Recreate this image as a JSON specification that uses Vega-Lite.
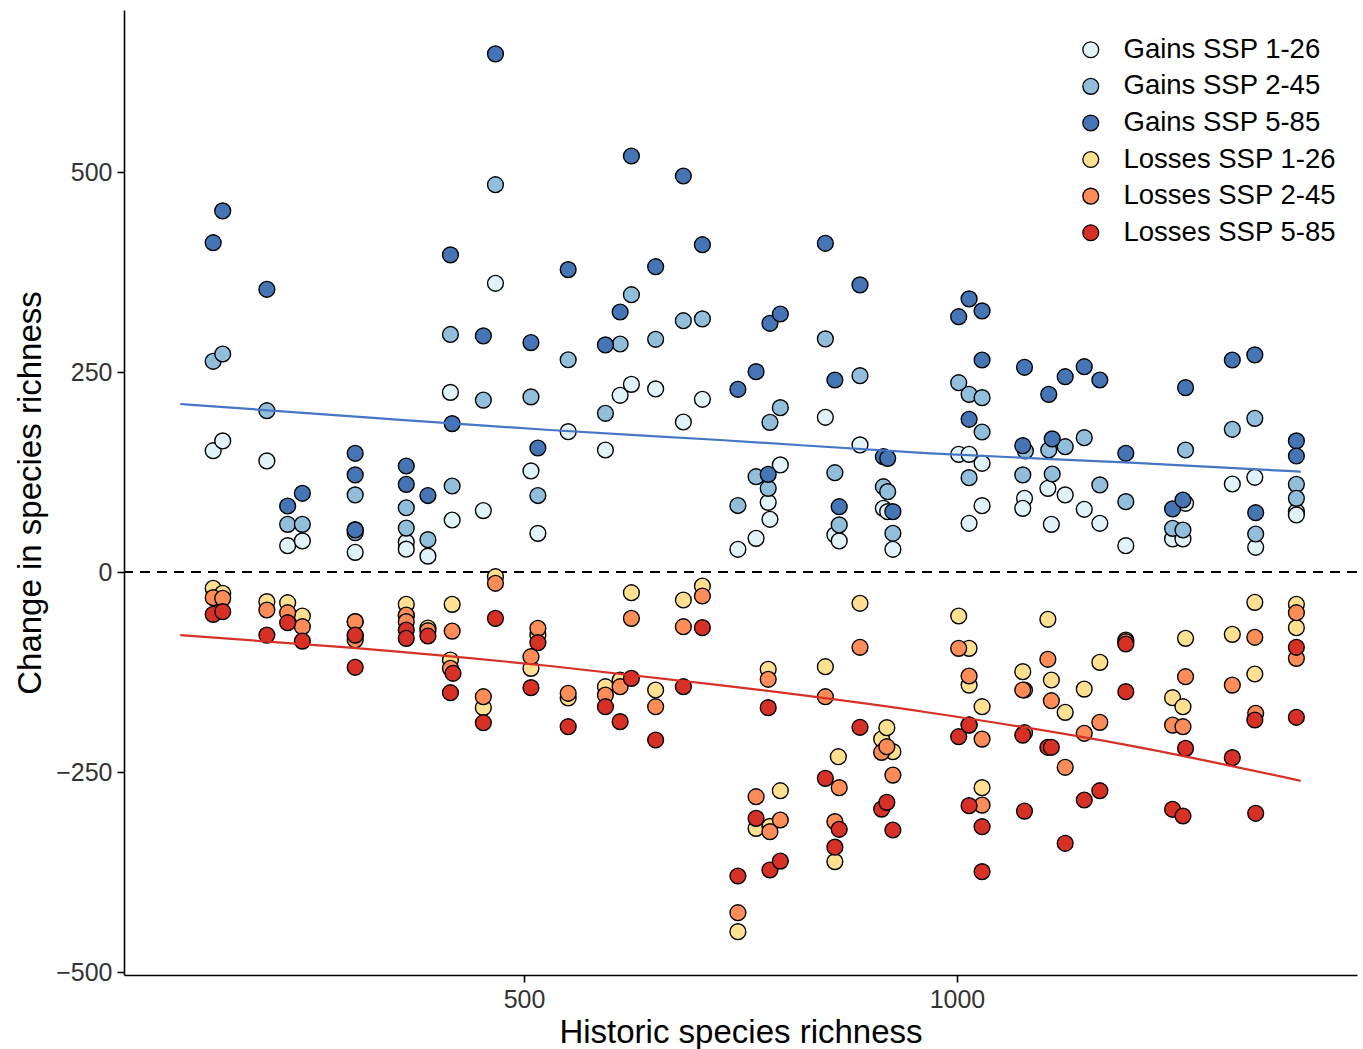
{
  "$schema": "https://vega.github.io/schema/vega-lite/v6.json",
  "width": 1233,
  "height": 965,
  "autosize": {"type": "none"},
  "padding": {"left": 124, "top": 10, "right": 6, "bottom": 74},
  "background": "white",
  "config": {
    "view": {"stroke": null},
    "font": "Liberation Sans",
    "axis": {
      "grid": false,
      "domainColor": "black",
      "domainWidth": 1.6,
      "tickColor": "black",
      "tickWidth": 1.6,
      "tickSize": 7,
      "labelFont": "Liberation Sans",
      "labelFontSize": 25,
      "labelColor": "#333333",
      "labelPadding": 5,
      "titleFont": "Liberation Sans",
      "titleFontSize": 33,
      "titleFontWeight": "normal",
      "titleColor": "black"
    },
    "legend": {
      "labelFont": "Liberation Sans",
      "labelFontSize": 27.5,
      "labelColor": "black",
      "labelLimit": 0,
      "symbolStrokeColor": "black",
      "symbolStrokeWidth": 1.3,
      "symbolSize": 250,
      "symbolType": "circle",
      "rowPadding": 7.6,
      "labelOffset": 19
    }
  },
  "datasets": {
    "pts": [
      {"x":141,"y":151.6,"s":"Gains SSP 1-26"},{"x":152,"y":163.8,"s":"Gains SSP 1-26"},{"x":203,"y":138.8,"s":"Gains SSP 1-26"},{"x":227,"y":32.9,"s":"Gains SSP 1-26"},{"x":244,"y":38.8,"s":"Gains SSP 1-26"},{"x":305,"y":24.6,"s":"Gains SSP 1-26"},{"x":305,"y":53,"s":"Gains SSP 1-26"},{"x":364,"y":37.3,"s":"Gains SSP 1-26"},{"x":364,"y":28.5,"s":"Gains SSP 1-26"},{"x":389,"y":19.8,"s":"Gains SSP 1-26"},{"x":415,"y":224.5,"s":"Gains SSP 1-26"},{"x":417,"y":65,"s":"Gains SSP 1-26"},{"x":453,"y":76.8,"s":"Gains SSP 1-26"},{"x":467,"y":360.9,"s":"Gains SSP 1-26"},{"x":508,"y":126.3,"s":"Gains SSP 1-26"},{"x":516,"y":48.3,"s":"Gains SSP 1-26"},{"x":551,"y":175.4,"s":"Gains SSP 1-26"},{"x":594,"y":152.5,"s":"Gains SSP 1-26"},{"x":611,"y":220.9,"s":"Gains SSP 1-26"},{"x":624,"y":234.6,"s":"Gains SSP 1-26"},{"x":652,"y":228.8,"s":"Gains SSP 1-26"},{"x":684,"y":187.5,"s":"Gains SSP 1-26"},{"x":706,"y":215.9,"s":"Gains SSP 1-26"},{"x":747,"y":28.4,"s":"Gains SSP 1-26"},{"x":768,"y":42.1,"s":"Gains SSP 1-26"},{"x":782,"y":87.1,"s":"Gains SSP 1-26"},{"x":784,"y":65.9,"s":"Gains SSP 1-26"},{"x":796,"y":133.8,"s":"Gains SSP 1-26"},{"x":848,"y":193.4,"s":"Gains SSP 1-26"},{"x":859,"y":46.3,"s":"Gains SSP 1-26"},{"x":864,"y":38.8,"s":"Gains SSP 1-26"},{"x":888,"y":158.8,"s":"Gains SSP 1-26"},{"x":915,"y":79.6,"s":"Gains SSP 1-26"},{"x":920,"y":75.4,"s":"Gains SSP 1-26"},{"x":926,"y":28.4,"s":"Gains SSP 1-26"},{"x":1002,"y":147.1,"s":"Gains SSP 1-26"},{"x":1014,"y":147.1,"s":"Gains SSP 1-26"},{"x":1014,"y":60.9,"s":"Gains SSP 1-26"},{"x":1029,"y":135.9,"s":"Gains SSP 1-26"},{"x":1029,"y":82.9,"s":"Gains SSP 1-26"},{"x":1078,"y":92.1,"s":"Gains SSP 1-26"},{"x":1076,"y":79.6,"s":"Gains SSP 1-26"},{"x":1105,"y":104.6,"s":"Gains SSP 1-26"},{"x":1109,"y":59.6,"s":"Gains SSP 1-26"},{"x":1125,"y":96.3,"s":"Gains SSP 1-26"},{"x":1147,"y":78.4,"s":"Gains SSP 1-26"},{"x":1165,"y":60.9,"s":"Gains SSP 1-26"},{"x":1195,"y":32.9,"s":"Gains SSP 1-26"},{"x":1249,"y":41.3,"s":"Gains SSP 1-26"},{"x":1261,"y":41.3,"s":"Gains SSP 1-26"},{"x":1264,"y":85.9,"s":"Gains SSP 1-26"},{"x":1318,"y":110,"s":"Gains SSP 1-26"},{"x":1344,"y":118.4,"s":"Gains SSP 1-26"},{"x":1345,"y":30.9,"s":"Gains SSP 1-26"},{"x":1392,"y":75.4,"s":"Gains SSP 1-26"},{"x":1392,"y":71.3,"s":"Gains SSP 1-26"},
      {"x":141,"y":263.4,"s":"Gains SSP 2-45"},{"x":152,"y":272.5,"s":"Gains SSP 2-45"},{"x":203,"y":201.6,"s":"Gains SSP 2-45"},{"x":227,"y":59.6,"s":"Gains SSP 2-45"},{"x":244,"y":59.6,"s":"Gains SSP 2-45"},{"x":305,"y":96.3,"s":"Gains SSP 2-45"},{"x":305,"y":49.1,"s":"Gains SSP 2-45"},{"x":364,"y":80.3,"s":"Gains SSP 2-45"},{"x":364,"y":54.9,"s":"Gains SSP 2-45"},{"x":389,"y":40.4,"s":"Gains SSP 2-45"},{"x":415,"y":296.9,"s":"Gains SSP 2-45"},{"x":417,"y":107.5,"s":"Gains SSP 2-45"},{"x":453,"y":214.9,"s":"Gains SSP 2-45"},{"x":467,"y":484.1,"s":"Gains SSP 2-45"},{"x":508,"y":218.9,"s":"Gains SSP 2-45"},{"x":516,"y":95.6,"s":"Gains SSP 2-45"},{"x":551,"y":265.3,"s":"Gains SSP 2-45"},{"x":594,"y":198.4,"s":"Gains SSP 2-45"},{"x":611,"y":285,"s":"Gains SSP 2-45"},{"x":624,"y":346.6,"s":"Gains SSP 2-45"},{"x":652,"y":290.9,"s":"Gains SSP 2-45"},{"x":684,"y":314.1,"s":"Gains SSP 2-45"},{"x":706,"y":316.3,"s":"Gains SSP 2-45"},{"x":747,"y":83.1,"s":"Gains SSP 2-45"},{"x":768,"y":119.1,"s":"Gains SSP 2-45"},{"x":784,"y":187.1,"s":"Gains SSP 2-45"},{"x":782,"y":104.6,"s":"Gains SSP 2-45"},{"x":796,"y":205.4,"s":"Gains SSP 2-45"},{"x":848,"y":291.3,"s":"Gains SSP 2-45"},{"x":859,"y":124.1,"s":"Gains SSP 2-45"},{"x":864,"y":58.8,"s":"Gains SSP 2-45"},{"x":888,"y":245.4,"s":"Gains SSP 2-45"},{"x":915,"y":106.6,"s":"Gains SSP 2-45"},{"x":920,"y":100.4,"s":"Gains SSP 2-45"},{"x":926,"y":48.4,"s":"Gains SSP 2-45"},{"x":1002,"y":236.6,"s":"Gains SSP 2-45"},{"x":1014,"y":222.1,"s":"Gains SSP 2-45"},{"x":1014,"y":117.9,"s":"Gains SSP 2-45"},{"x":1029,"y":217.9,"s":"Gains SSP 2-45"},{"x":1029,"y":175,"s":"Gains SSP 2-45"},{"x":1079,"y":151.3,"s":"Gains SSP 2-45"},{"x":1076,"y":121.3,"s":"Gains SSP 2-45"},{"x":1106,"y":152.5,"s":"Gains SSP 2-45"},{"x":1110,"y":122.5,"s":"Gains SSP 2-45"},{"x":1125,"y":156.6,"s":"Gains SSP 2-45"},{"x":1147,"y":167.9,"s":"Gains SSP 2-45"},{"x":1165,"y":108.8,"s":"Gains SSP 2-45"},{"x":1195,"y":87.9,"s":"Gains SSP 2-45"},{"x":1249,"y":54.6,"s":"Gains SSP 2-45"},{"x":1261,"y":52.5,"s":"Gains SSP 2-45"},{"x":1264,"y":152.5,"s":"Gains SSP 2-45"},{"x":1318,"y":178.4,"s":"Gains SSP 2-45"},{"x":1344,"y":192.1,"s":"Gains SSP 2-45"},{"x":1345,"y":47.5,"s":"Gains SSP 2-45"},{"x":1392,"y":109.6,"s":"Gains SSP 2-45"},{"x":1392,"y":92.1,"s":"Gains SSP 2-45"},
      {"x":141,"y":411.6,"s":"Gains SSP 5-85"},{"x":152,"y":451.3,"s":"Gains SSP 5-85"},{"x":203,"y":353.4,"s":"Gains SSP 5-85"},{"x":227,"y":82.5,"s":"Gains SSP 5-85"},{"x":244,"y":98.4,"s":"Gains SSP 5-85"},{"x":305,"y":148.4,"s":"Gains SSP 5-85"},{"x":305,"y":121.3,"s":"Gains SSP 5-85"},{"x":305,"y":52.5,"s":"Gains SSP 5-85"},{"x":364,"y":132.5,"s":"Gains SSP 5-85"},{"x":364,"y":109.6,"s":"Gains SSP 5-85"},{"x":389,"y":95.6,"s":"Gains SSP 5-85"},{"x":415,"y":396.4,"s":"Gains SSP 5-85"},{"x":417,"y":185.5,"s":"Gains SSP 5-85"},{"x":453,"y":295.1,"s":"Gains SSP 5-85"},{"x":467,"y":647.6,"s":"Gains SSP 5-85"},{"x":508,"y":286.8,"s":"Gains SSP 5-85"},{"x":516,"y":155,"s":"Gains SSP 5-85"},{"x":551,"y":378,"s":"Gains SSP 5-85"},{"x":594,"y":283.8,"s":"Gains SSP 5-85"},{"x":611,"y":325,"s":"Gains SSP 5-85"},{"x":624,"y":520,"s":"Gains SSP 5-85"},{"x":652,"y":381.6,"s":"Gains SSP 5-85"},{"x":684,"y":495,"s":"Gains SSP 5-85"},{"x":706,"y":409.1,"s":"Gains SSP 5-85"},{"x":747,"y":228.4,"s":"Gains SSP 5-85"},{"x":768,"y":250.4,"s":"Gains SSP 5-85"},{"x":784,"y":310.9,"s":"Gains SSP 5-85"},{"x":782,"y":122.1,"s":"Gains SSP 5-85"},{"x":796,"y":322.5,"s":"Gains SSP 5-85"},{"x":848,"y":410.9,"s":"Gains SSP 5-85"},{"x":859,"y":240,"s":"Gains SSP 5-85"},{"x":864,"y":81.6,"s":"Gains SSP 5-85"},{"x":888,"y":358.8,"s":"Gains SSP 5-85"},{"x":915,"y":144.1,"s":"Gains SSP 5-85"},{"x":920,"y":142.1,"s":"Gains SSP 5-85"},{"x":926,"y":75.4,"s":"Gains SSP 5-85"},{"x":1002,"y":319.1,"s":"Gains SSP 5-85"},{"x":1014,"y":341.3,"s":"Gains SSP 5-85"},{"x":1014,"y":190.9,"s":"Gains SSP 5-85"},{"x":1029,"y":326.3,"s":"Gains SSP 5-85"},{"x":1029,"y":265,"s":"Gains SSP 5-85"},{"x":1078,"y":255.9,"s":"Gains SSP 5-85"},{"x":1076,"y":157.9,"s":"Gains SSP 5-85"},{"x":1106,"y":222.1,"s":"Gains SSP 5-85"},{"x":1110,"y":166.3,"s":"Gains SSP 5-85"},{"x":1125,"y":244.1,"s":"Gains SSP 5-85"},{"x":1147,"y":256.6,"s":"Gains SSP 5-85"},{"x":1165,"y":240,"s":"Gains SSP 5-85"},{"x":1195,"y":148.4,"s":"Gains SSP 5-85"},{"x":1249,"y":78.8,"s":"Gains SSP 5-85"},{"x":1261,"y":90,"s":"Gains SSP 5-85"},{"x":1264,"y":230.4,"s":"Gains SSP 5-85"},{"x":1318,"y":265,"s":"Gains SSP 5-85"},{"x":1344,"y":271.3,"s":"Gains SSP 5-85"},{"x":1345,"y":74.1,"s":"Gains SSP 5-85"},{"x":1392,"y":163.8,"s":"Gains SSP 5-85"},{"x":1392,"y":145,"s":"Gains SSP 5-85"},
      {"x":141,"y":-20.4,"s":"Losses SSP 1-26"},{"x":152,"y":-26.6,"s":"Losses SSP 1-26"},{"x":203,"y":-37.1,"s":"Losses SSP 1-26"},{"x":227,"y":-38.4,"s":"Losses SSP 1-26"},{"x":244,"y":-55,"s":"Losses SSP 1-26"},{"x":305,"y":-62,"s":"Losses SSP 1-26"},{"x":305,"y":-80,"s":"Losses SSP 1-26"},{"x":364,"y":-40.4,"s":"Losses SSP 1-26"},{"x":364,"y":-55,"s":"Losses SSP 1-26"},{"x":389,"y":-70,"s":"Losses SSP 1-26"},{"x":417,"y":-40.4,"s":"Losses SSP 1-26"},{"x":415,"y":-110,"s":"Losses SSP 1-26"},{"x":453,"y":-169.6,"s":"Losses SSP 1-26"},{"x":467,"y":-5.9,"s":"Losses SSP 1-26"},{"x":508,"y":-120.4,"s":"Losses SSP 1-26"},{"x":516,"y":-78.8,"s":"Losses SSP 1-26"},{"x":551,"y":-157.5,"s":"Losses SSP 1-26"},{"x":594,"y":-143.4,"s":"Losses SSP 1-26"},{"x":611,"y":-135,"s":"Losses SSP 1-26"},{"x":624,"y":-25.9,"s":"Losses SSP 1-26"},{"x":652,"y":-147.5,"s":"Losses SSP 1-26"},{"x":684,"y":-35,"s":"Losses SSP 1-26"},{"x":706,"y":-17.5,"s":"Losses SSP 1-26"},{"x":747,"y":-449.6,"s":"Losses SSP 1-26"},{"x":768,"y":-320.4,"s":"Losses SSP 1-26"},{"x":782,"y":-121.6,"s":"Losses SSP 1-26"},{"x":784,"y":-318,"s":"Losses SSP 1-26"},{"x":796,"y":-273.4,"s":"Losses SSP 1-26"},{"x":848,"y":-118.4,"s":"Losses SSP 1-26"},{"x":859,"y":-362,"s":"Losses SSP 1-26"},{"x":863,"y":-230.9,"s":"Losses SSP 1-26"},{"x":888,"y":-39.1,"s":"Losses SSP 1-26"},{"x":913,"y":-208.8,"s":"Losses SSP 1-26"},{"x":919,"y":-194.6,"s":"Losses SSP 1-26"},{"x":926,"y":-224.6,"s":"Losses SSP 1-26"},{"x":1002,"y":-55,"s":"Losses SSP 1-26"},{"x":1014,"y":-95.4,"s":"Losses SSP 1-26"},{"x":1014,"y":-141.3,"s":"Losses SSP 1-26"},{"x":1029,"y":-168.4,"s":"Losses SSP 1-26"},{"x":1029,"y":-269.6,"s":"Losses SSP 1-26"},{"x":1076,"y":-124.6,"s":"Losses SSP 1-26"},{"x":1078,"y":-147.5,"s":"Losses SSP 1-26"},{"x":1105,"y":-59.1,"s":"Losses SSP 1-26"},{"x":1109,"y":-135,"s":"Losses SSP 1-26"},{"x":1125,"y":-175.4,"s":"Losses SSP 1-26"},{"x":1147,"y":-146.3,"s":"Losses SSP 1-26"},{"x":1165,"y":-112.9,"s":"Losses SSP 1-26"},{"x":1195,"y":-85,"s":"Losses SSP 1-26"},{"x":1249,"y":-157.1,"s":"Losses SSP 1-26"},{"x":1261,"y":-168.4,"s":"Losses SSP 1-26"},{"x":1264,"y":-82.9,"s":"Losses SSP 1-26"},{"x":1318,"y":-77.9,"s":"Losses SSP 1-26"},{"x":1344,"y":-37.9,"s":"Losses SSP 1-26"},{"x":1344,"y":-127.5,"s":"Losses SSP 1-26"},{"x":1392,"y":-40.4,"s":"Losses SSP 1-26"},{"x":1392,"y":-69.6,"s":"Losses SSP 1-26"},
      {"x":141,"y":-32.1,"s":"Losses SSP 2-45"},{"x":152,"y":-32.9,"s":"Losses SSP 2-45"},{"x":203,"y":-47.5,"s":"Losses SSP 2-45"},{"x":227,"y":-50.9,"s":"Losses SSP 2-45"},{"x":244,"y":-68.4,"s":"Losses SSP 2-45"},{"x":305,"y":-62.1,"s":"Losses SSP 2-45"},{"x":305,"y":-85,"s":"Losses SSP 2-45"},{"x":364,"y":-53.8,"s":"Losses SSP 2-45"},{"x":364,"y":-62.1,"s":"Losses SSP 2-45"},{"x":389,"y":-73.4,"s":"Losses SSP 2-45"},{"x":417,"y":-73.8,"s":"Losses SSP 2-45"},{"x":415,"y":-120.4,"s":"Losses SSP 2-45"},{"x":453,"y":-155.9,"s":"Losses SSP 2-45"},{"x":467,"y":-14.1,"s":"Losses SSP 2-45"},{"x":508,"y":-105.9,"s":"Losses SSP 2-45"},{"x":516,"y":-70.4,"s":"Losses SSP 2-45"},{"x":551,"y":-151.6,"s":"Losses SSP 2-45"},{"x":594,"y":-153.8,"s":"Losses SSP 2-45"},{"x":611,"y":-143.4,"s":"Losses SSP 2-45"},{"x":624,"y":-57.9,"s":"Losses SSP 2-45"},{"x":652,"y":-168.4,"s":"Losses SSP 2-45"},{"x":684,"y":-68.4,"s":"Losses SSP 2-45"},{"x":706,"y":-30,"s":"Losses SSP 2-45"},{"x":747,"y":-425.9,"s":"Losses SSP 2-45"},{"x":768,"y":-280.9,"s":"Losses SSP 2-45"},{"x":782,"y":-134.1,"s":"Losses SSP 2-45"},{"x":784,"y":-324.6,"s":"Losses SSP 2-45"},{"x":796,"y":-310,"s":"Losses SSP 2-45"},{"x":848,"y":-155.9,"s":"Losses SSP 2-45"},{"x":859,"y":-312,"s":"Losses SSP 2-45"},{"x":864,"y":-269.6,"s":"Losses SSP 2-45"},{"x":888,"y":-94.1,"s":"Losses SSP 2-45"},{"x":913,"y":-225.4,"s":"Losses SSP 2-45"},{"x":919,"y":-218.4,"s":"Losses SSP 2-45"},{"x":926,"y":-253.8,"s":"Losses SSP 2-45"},{"x":1002,"y":-95.4,"s":"Losses SSP 2-45"},{"x":1014,"y":-130,"s":"Losses SSP 2-45"},{"x":1014,"y":-191,"s":"Losses SSP 2-45"},{"x":1029,"y":-208.8,"s":"Losses SSP 2-45"},{"x":1029,"y":-291.3,"s":"Losses SSP 2-45"},{"x":1076,"y":-147.5,"s":"Losses SSP 2-45"},{"x":1078,"y":-200.9,"s":"Losses SSP 2-45"},{"x":1105,"y":-109.1,"s":"Losses SSP 2-45"},{"x":1109,"y":-160.9,"s":"Losses SSP 2-45"},{"x":1125,"y":-244.1,"s":"Losses SSP 2-45"},{"x":1147,"y":-201.6,"s":"Losses SSP 2-45"},{"x":1165,"y":-187.9,"s":"Losses SSP 2-45"},{"x":1195,"y":-87.1,"s":"Losses SSP 2-45"},{"x":1249,"y":-191.3,"s":"Losses SSP 2-45"},{"x":1261,"y":-193.4,"s":"Losses SSP 2-45"},{"x":1264,"y":-130.9,"s":"Losses SSP 2-45"},{"x":1318,"y":-141.3,"s":"Losses SSP 2-45"},{"x":1344,"y":-81.6,"s":"Losses SSP 2-45"},{"x":1345,"y":-176.6,"s":"Losses SSP 2-45"},{"x":1392,"y":-50.9,"s":"Losses SSP 2-45"},{"x":1392,"y":-107.9,"s":"Losses SSP 2-45"},
      {"x":141,"y":-52.9,"s":"Losses SSP 5-85"},{"x":152,"y":-49.6,"s":"Losses SSP 5-85"},{"x":203,"y":-78.8,"s":"Losses SSP 5-85"},{"x":227,"y":-63.4,"s":"Losses SSP 5-85"},{"x":244,"y":-86.3,"s":"Losses SSP 5-85"},{"x":305,"y":-78.8,"s":"Losses SSP 5-85"},{"x":305,"y":-119.1,"s":"Losses SSP 5-85"},{"x":364,"y":-72.5,"s":"Losses SSP 5-85"},{"x":364,"y":-82.9,"s":"Losses SSP 5-85"},{"x":389,"y":-80,"s":"Losses SSP 5-85"},{"x":418,"y":-126.6,"s":"Losses SSP 5-85"},{"x":415,"y":-150.9,"s":"Losses SSP 5-85"},{"x":453,"y":-188.4,"s":"Losses SSP 5-85"},{"x":467,"y":-57.9,"s":"Losses SSP 5-85"},{"x":508,"y":-144.6,"s":"Losses SSP 5-85"},{"x":516,"y":-88.4,"s":"Losses SSP 5-85"},{"x":551,"y":-193.4,"s":"Losses SSP 5-85"},{"x":594,"y":-168.4,"s":"Losses SSP 5-85"},{"x":611,"y":-187.1,"s":"Losses SSP 5-85"},{"x":624,"y":-132.9,"s":"Losses SSP 5-85"},{"x":652,"y":-210,"s":"Losses SSP 5-85"},{"x":684,"y":-143.4,"s":"Losses SSP 5-85"},{"x":706,"y":-69.6,"s":"Losses SSP 5-85"},{"x":747,"y":-380,"s":"Losses SSP 5-85"},{"x":768,"y":-307.9,"s":"Losses SSP 5-85"},{"x":782,"y":-169.6,"s":"Losses SSP 5-85"},{"x":784,"y":-372.5,"s":"Losses SSP 5-85"},{"x":796,"y":-361.3,"s":"Losses SSP 5-85"},{"x":848,"y":-257.9,"s":"Losses SSP 5-85"},{"x":859,"y":-344,"s":"Losses SSP 5-85"},{"x":864,"y":-321.6,"s":"Losses SSP 5-85"},{"x":888,"y":-194.1,"s":"Losses SSP 5-85"},{"x":913,"y":-296.3,"s":"Losses SSP 5-85"},{"x":919,"y":-287.9,"s":"Losses SSP 5-85"},{"x":926,"y":-322.5,"s":"Losses SSP 5-85"},{"x":1002,"y":-205.9,"s":"Losses SSP 5-85"},{"x":1014,"y":-191.3,"s":"Losses SSP 5-85"},{"x":1014,"y":-292.1,"s":"Losses SSP 5-85"},{"x":1029,"y":-318.4,"s":"Losses SSP 5-85"},{"x":1029,"y":-374.6,"s":"Losses SSP 5-85"},{"x":1076,"y":-203.8,"s":"Losses SSP 5-85"},{"x":1078,"y":-298.8,"s":"Losses SSP 5-85"},{"x":1105,"y":-219.1,"s":"Losses SSP 5-85"},{"x":1109,"y":-219.1,"s":"Losses SSP 5-85"},{"x":1125,"y":-339.1,"s":"Losses SSP 5-85"},{"x":1147,"y":-285,"s":"Losses SSP 5-85"},{"x":1165,"y":-273.4,"s":"Losses SSP 5-85"},{"x":1195,"y":-90,"s":"Losses SSP 5-85"},{"x":1195,"y":-149.6,"s":"Losses SSP 5-85"},{"x":1249,"y":-296.6,"s":"Losses SSP 5-85"},{"x":1261,"y":-305,"s":"Losses SSP 5-85"},{"x":1264,"y":-220.4,"s":"Losses SSP 5-85"},{"x":1318,"y":-232.1,"s":"Losses SSP 5-85"},{"x":1344,"y":-185,"s":"Losses SSP 5-85"},{"x":1345,"y":-301.6,"s":"Losses SSP 5-85"},{"x":1392,"y":-94.1,"s":"Losses SSP 5-85"},{"x":1392,"y":-181.6,"s":"Losses SSP 5-85"}
    ],
    "blueLine": [
      {"x":103,"y":210},{"x":322,"y":192.9},{"x":530,"y":177.5},{"x":726,"y":165},{"x":969,"y":148.4},{"x":1200,"y":136.6},{"x":1397,"y":125.4}
    ],
    "redLine": [
      {"x":103,"y":-78.8},{"x":299,"y":-94.6},{"x":530,"y":-117.5},{"x":726,"y":-141.3},{"x":969,"y":-175.9},{"x":1200,"y":-217.1},{"x":1397,"y":-261}
    ],
    "zero": [{"y":0}]
  },
  "layer": [
    {
      "data": {"name": "zero"},
      "mark": {"type": "rule", "color": "black", "strokeWidth": 2, "strokeDash": [10, 7]},
      "encoding": {
        "y": {"field": "y", "type": "quantitative", "scale": {"domain": [-503.75, 702.5], "nice": false, "zero": false}}
      }
    },
    {
      "data": {"name": "pts"},
      "mark": {"type": "circle", "stroke": "black", "strokeWidth": 1.4, "size": 250, "opacity": 1},
      "encoding": {
        "x": {
          "field": "x", "type": "quantitative",
          "scale": {"domain": [38, 1462], "nice": false, "zero": false},
          "axis": {"values": [500, 1000], "format": "d", "title": "Historic species richness", "titlePadding": 4}
        },
        "y": {
          "field": "y", "type": "quantitative",
          "scale": {"domain": [-503.75, 702.5], "nice": false, "zero": false},
          "axis": {"values": [-500, -250, 0, 250, 500], "title": "Change in species richness", "titlePadding": 8}
        },
        "fill": {
          "field": "s", "type": "nominal",
          "scale": {
            "domain": ["Gains SSP 1-26", "Gains SSP 2-45", "Gains SSP 5-85", "Losses SSP 1-26", "Losses SSP 2-45", "Losses SSP 5-85"],
            "range": ["#e0f3f8", "#91bfdb", "#4575b4", "#fee090", "#fc8d59", "#d73027"]
          },
          "legend": {"title": null, "orient": "none", "legendX": 953, "legendY": 26}
        }
      }
    },
    {
      "data": {"name": "blueLine"},
      "mark": {"type": "line", "color": "#4575c4", "strokeWidth": 2.2, "interpolate": "monotone"},
      "encoding": {
        "x": {"field": "x", "type": "quantitative"},
        "y": {"field": "y", "type": "quantitative"}
      }
    },
    {
      "data": {"name": "redLine"},
      "mark": {"type": "line", "color": "#d73027", "strokeWidth": 2.2, "interpolate": "monotone"},
      "encoding": {
        "x": {"field": "x", "type": "quantitative"},
        "y": {"field": "y", "type": "quantitative"}
      }
    }
  ]
}
